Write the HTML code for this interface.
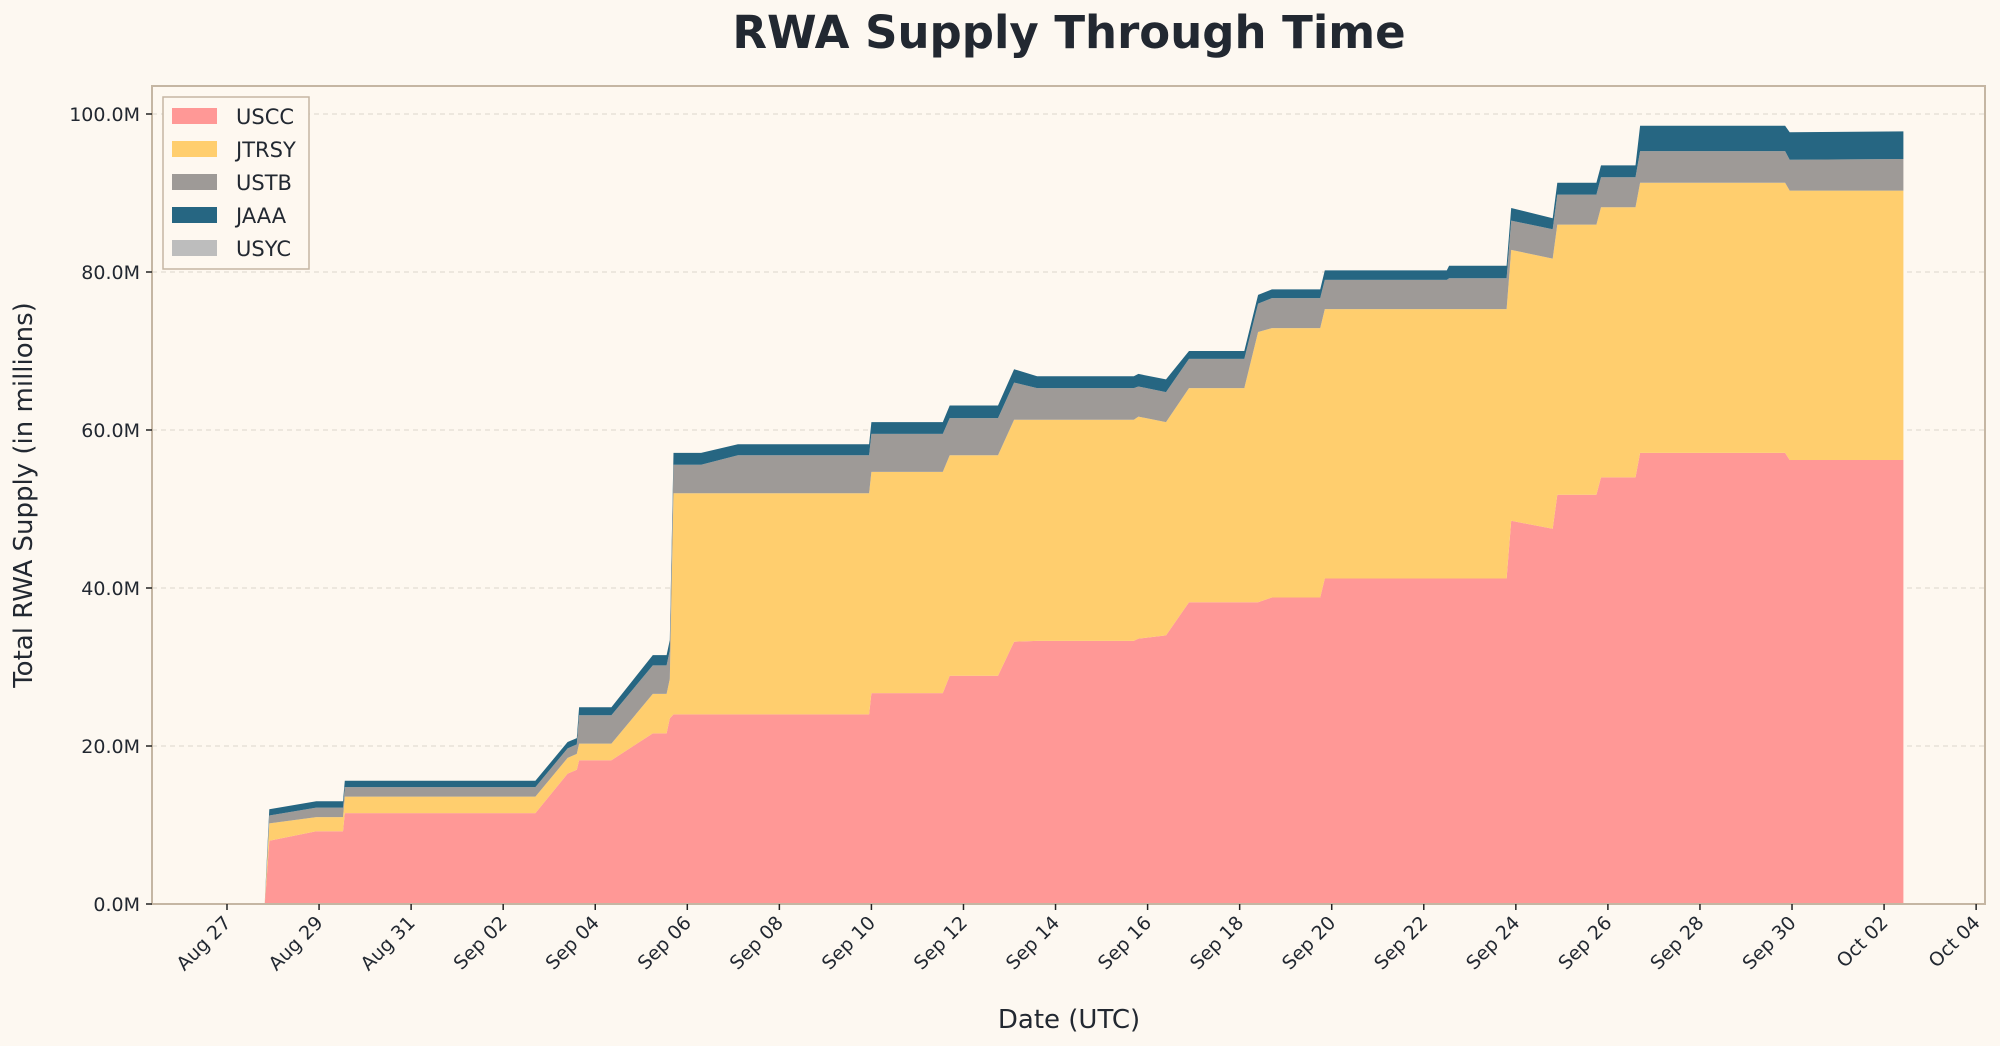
<!DOCTYPE html>
<html><head><meta charset="utf-8"><style>
html,body{margin:0;padding:0;background:#fdf8f1;}
svg{display:block;font-family:"DejaVu Sans","Liberation Sans",sans-serif;}
</style></head><body>
<svg id="chart" width="2000" height="1046" viewBox="0 0 2000 1046">
<rect x="0" y="0" width="2000" height="1046" fill="#fdf8f1"/>
<text x="1069" y="48" text-anchor="middle" font-size="45" font-weight="bold" fill="#222831">RWA Supply Through Time</text>
<rect x="152" y="86" width="1833" height="818" fill="#fef8f0"/>
<g id="grid"></g>
<g id="areas"></g>
<rect x="152" y="86" width="1833" height="818" fill="none" stroke="#c5b6a3" stroke-width="2"/>
<g id="yaxis"></g>
<g id="xaxis"></g>
<text transform="translate(32,495) rotate(-90)" text-anchor="middle" font-size="26" fill="#222831">Total RWA Supply (in millions)</text>
<text x="1069" y="1028" text-anchor="middle" font-size="26" fill="#222831">Date (UTC)</text>
<g id="legend"></g>
</svg>
<script>
const days  = [0.82,0.86,0.92,1.94,2.52,2.56,6.7,7.4,7.6,7.65,8.35,9.25,9.55,9.62,9.7,10.3,11.1,13.95,14.0,15.55,15.7,16.75,17.1,17.6,19.7,19.8,20.4,20.9,22.1,22.4,22.7,23.75,23.85,26.5,26.55,27.8,27.9,28.8,28.9,29.75,29.85,30.6,30.7,33.85,33.95,36.42];
const uscc  = [0,3,8,9.2,9.2,11.5,11.5,16.5,17,18.2,18.2,21.6,21.6,23.5,24,24,24,24,26.7,26.7,28.9,28.9,33.2,33.3,33.3,33.6,34,38.2,38.2,38.2,38.8,38.8,41.2,41.2,41.2,41.2,48.5,47.5,51.8,51.8,54,54,57.1,57.1,56.2,56.2];
const jtrsy = [0,1,2.2,1.8,1.8,2.1,2.1,2.0,2.0,2.1,2.1,5.0,5.0,5.0,28,28,28,28,28,28,27.9,27.9,28.1,28.0,28.0,28.1,27,27.1,27.1,34.2,34.1,34.1,34.1,34.1,34.1,34.1,34.3,34.2,34.2,34.2,34.2,34.2,34.2,34.2,34.1,34.1];
const ustb  = [0,0.5,1.0,1.2,1.2,1.2,1.2,1.2,1.2,3.6,3.6,3.6,3.6,3.6,3.6,3.6,4.8,4.8,4.8,4.8,4.7,4.7,4.7,4.0,4.0,3.8,3.8,3.7,3.7,3.6,3.8,3.8,3.7,3.7,3.9,3.9,3.7,3.7,3.8,3.8,3.8,3.8,4.0,4.0,3.9,4.0];
const jaaa  = [0,0.5,0.8,0.8,0.8,0.8,0.8,0.8,0.8,1.0,1.0,1.3,1.3,1.3,1.5,1.5,1.4,1.4,1.5,1.5,1.6,1.6,1.7,1.5,1.5,1.6,1.6,1.0,1.0,1.1,1.1,1.1,1.2,1.2,1.6,1.6,1.6,1.4,1.5,1.5,1.5,1.5,3.2,3.2,3.5,3.5];
const usyc  = days.map(()=>0);
const seriesNames = ["USCC","JTRSY","USTB","JAAA","USYC"];
const seriesColors = ["#ff9896","#ffce6e","#9e9a97","#266682","#bdbdbd"];
const yTicks = [0,20,40,60,80,100];
const yTickLabels = ["0.0M","20.0M","40.0M","60.0M","80.0M","100.0M"];
const xTickDays = [0,2,4,6,8,10,12,14,16,18,20,22,24,26,28,30,32,34,36,38];
const xTickLabels = ["Aug 27","Aug 29","Aug 31","Sep 02","Sep 04","Sep 06","Sep 08","Sep 10","Sep 12","Sep 14","Sep 16","Sep 18","Sep 20","Sep 22","Sep 24","Sep 26","Sep 28","Sep 30","Oct 02","Oct 04"];

const NS="http://www.w3.org/2000/svg";
const X = d => 227 + d*46.03;
const Y = v => 904 - v*7.9;
function mk(tag, attrs, parent){const e=document.createElementNS(NS,tag);for(const k in attrs)e.setAttribute(k,attrs[k]);parent.appendChild(e);return e;}

const grid=document.getElementById('grid'), yax=document.getElementById('yaxis'), xax=document.getElementById('xaxis');
yTicks.forEach((v,i)=>{
  if(v>0){const g=mk('line',{x1:152,x2:1985,y1:Y(v),y2:Y(v),stroke:'#dcd6cd','stroke-width':1,'stroke-dasharray':'5,4'},grid);
  
  }
  const t=mk('line',{x1:146,x2:152,y1:Y(v),y2:Y(v),stroke:'#222',"stroke-width":1.5},yax);
  
  
  const l=mk('text',{x:140,y:Y(v)+7,'text-anchor':'end','font-size':19,fill:'#222831'},yax);
  
  
  l.textContent=yTickLabels[i];
});
xTickDays.forEach((d,i)=>{
  const x=X(d);
  const t=mk('line',{x1:x,x2:x,y1:904,y2:910,stroke:'#222',"stroke-width":1.5},xax);
  
  
  const l=mk('text',{x:0,y:0,'text-anchor':'end','font-size':19,fill:'#222831',transform:`translate(${x+5},${924}) rotate(-45)`},xax);
  
  
  l.textContent=xTickLabels[i];
});

const all=[uscc,jtrsy,ustb,jaaa,usyc];
const areas=document.getElementById('areas');
let base=days.map(()=>0);
all.forEach((s,si)=>{
  const top=base.map((b,i)=>b+s[i]);
  let pts=[];
  days.forEach((d,i)=>pts.push(X(d).toFixed(1)+','+Y(top[i]).toFixed(1)));
  for(let i=days.length-1;i>=0;i--)pts.push(X(days[i]).toFixed(1)+','+Y(base[i]).toFixed(1));
  const p=mk('polygon',{points:pts.join(' '),fill:seriesColors[si]},areas);
  
  
  base=top;
});

const lg=document.getElementById('legend');
const box=mk('rect',{x:163,y:97,width:146,height:172,fill:'#fef8f0',stroke:'#c5b6a3','stroke-width':1.5},lg);


seriesNames.forEach((n,i)=>{
  const y=108+i*33;
  const r=mk('rect',{x:172,y:y,width:45,height:16,fill:seriesColors[i]},lg);
  
  
  const t=mk('text',{x:236,y:y+16,'font-size':21,fill:'#222831'},lg);
  
  
  t.textContent=n;
});
</script>
</body></html>
